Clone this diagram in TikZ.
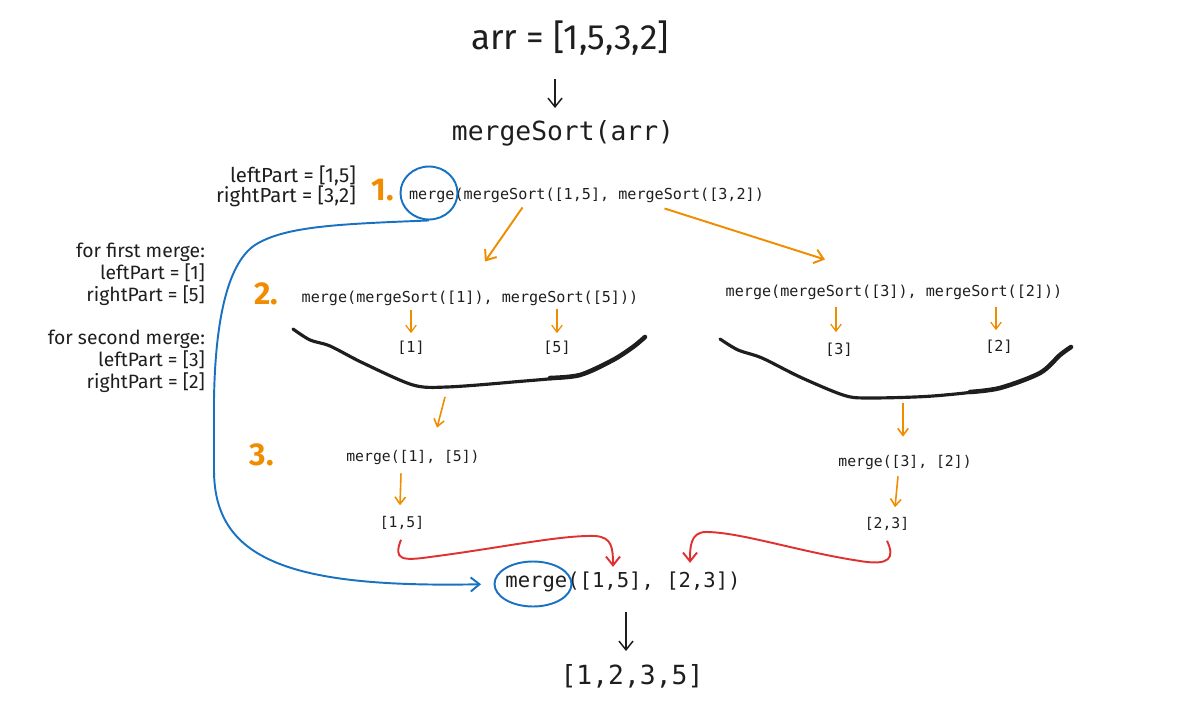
\documentclass[tikz,border=0pt]{standalone}
\usepackage{fontspec}
\usepackage{xcolor}
\usepackage{tikz}
\usetikzlibrary{shapes,arrows,arrows.meta,positioning,calc}
\newfontfamily\handfont{Fira Sans}
\newfontfamily\codefont{DejaVu Sans Mono}
\definecolor{exorange}{HTML}{F08C00}
\definecolor{exblue}{HTML}{1971C2}
\definecolor{exred}{HTML}{E03131}
\definecolor{exink}{HTML}{1E1E1E}
\tikzstyle{line} = [draw, -{Straight Barb[length=5pt,width=8pt]}]
\tikzset{
    every node/.style={inner sep=1pt, text=exink, font=\codefont\fontsize{8.6}{10}\selectfont}
}

\begin{document}
\begin{tikzpicture}[x=0.02cm, y=-0.02cm]
    % Define styles for the call tree
    \tikzstyle{handtext} = [font=\handfont\fontsize{11}{12.5}\selectfont]
    \tikzstyle{stepnum} = [text=exorange, font=\handfont\bfseries\fontsize{18}{20}\selectfont]
    \tikzstyle{ring} = [ellipse, draw=exblue, line width=1.1pt]
    \tikzstyle{bowl} = [draw=exink, line width=1.8pt, line cap=round, line join=round]
    \tikzstyle{fanout} = [line, draw=exorange, line width=1.1pt]
    \tikzstyle{orangedown} = [line, draw=exorange, line width=0.7pt,
        -{Straight Barb[length=4pt,width=6pt]}]
    \tikzstyle{mergeback} = [line, draw=exred, line width=1.1pt]
    \tikzstyle{blueloop} = [line, draw=exblue, line width=1.1pt]

    \useasboundingbox (0,0) rectangle (1200,719);

    % Top call
    \node[font=\handfont\fontsize{20}{22}\selectfont] (arr) at (570,38) {arr = [1,5,3,2]};
    \node[font=\codefont\fontsize{15}{18}\selectfont] (msort) at (563,133) {mergeSort(arr)};
    \draw[line, draw=exink, line width=0.85pt] ($(arr.south)+(-15,22)$) -- ($(msort.north)+(-8,-10)$);

    % Step 1
    \node[handtext, font=\handfont\fontsize{11.6}{11.5}\selectfont, align=right, anchor=east]
        (parts1) at (358,186) {leftPart = [1,5]\\rightPart = [3,2]};
    \node[stepnum] (s1) at (383,190) {1.};
    \node[anchor=west] (call1) at (407,195) {merge(mergeSort([1,5], mergeSort([3,2])};
    \node[ring, minimum width=1.14cm, minimum height=1.06cm] (ring1) at (429,193) {};

    % Notes on the left
    \node[handtext, align=right, anchor=east] (side1) at (207,274)
        {for first merge:\\leftPart = [1]\\rightPart = [5]};
    \node[handtext, align=right, anchor=east] (side2) at (207,361)
        {for second merge:\\leftPart = [3]\\rightPart = [2]};

    % Step 2
    \node[stepnum] (s2) at (266,294) {2.};
    \node (call2L) at (470,298) {merge(mergeSort([1]), mergeSort([5]))};
    \node (call2R) at (894,292) {merge(mergeSort([3]), mergeSort([2]))};
    \draw[fanout] ($(call1.south)+(-64,3)$) -- ($(call2L.north)+(15,-27)$);
    \draw[fanout] ($(call1.south)+(78,4)$) -- ($(call2R.north)+(-69,-23)$);

    \node (leaf1) at (411,348) {[1]};
    \node (leaf5) at (557,348) {[5]};
    \node (leaf3) at (839,350) {[3]};
    \node (leaf2) at (999,347) {[2]};
    \draw[orangedown, shorten <=0.06cm, shorten >=0.12cm] (leaf1.north |- call2L.south) -- (leaf1.north);
    \draw[orangedown, shorten <=0.04cm, shorten >=0.12cm] (leaf5.north |- call2L.south) -- (leaf5.north);
    \draw[orangedown, shorten <=0.12cm, shorten >=0.18cm] ([xshift=-0.06cm]leaf3.north |- call2R.south) -- ([xshift=-0.06cm]leaf3.north);
    \draw[orangedown, shorten <=0.12cm, shorten >=0.16cm] ([xshift=-0.06cm]leaf2.north |- call2R.south) -- ([xshift=-0.06cm]leaf2.north);

    % Hand drawn bowls under the leaves
    \draw[bowl] plot[smooth] coordinates {(293,329) (310,340) (330,346) (363,363) (413,385)
        (447,387) (513,382) (580,375) (613,360) (633,347) (645,337)};
    \draw[bowl, line width=2.6pt] plot[smooth] coordinates {(550,378) (580,375) (613,360) (633,347) (645,337)};
    \draw[bowl] plot[smooth] coordinates {(720,339) (738,350) (762,358) (800,377) (843,395)
        (867,398) (933,396) (1000,388) (1040,373) (1060,355) (1071,347)};
    \draw[bowl, line width=2.6pt] plot[smooth] coordinates {(970,392) (1000,388) (1040,373) (1060,355) (1071,347)};
    \coordinate (bowlL) at (445,397);
    \coordinate (bowlR) at (903,403);

    % Step 3
    \node[stepnum] (s3) at (262,455) {3.};
    \node[font=\codefont\fontsize{8.4}{10}\selectfont] (merge31) at (413,457) {merge([1], [5])};
    \node[font=\codefont\fontsize{8.4}{10}\selectfont] (merge32) at (905,462) {merge([3], [2])};
    \node[font=\codefont\fontsize{8.4}{10}\selectfont] (pair15) at (402,523) {[1,5]};
    \node[font=\codefont\fontsize{8.4}{10}\selectfont] (pair23) at (887,524) {[2,3]};
    \draw[orangedown, line width=0.9pt] (bowlL) -- ($(merge31.north)+(24,-20)$);
    \draw[orangedown, line width=0.9pt] (bowlR) -- ($(merge32.north)+(-2,-16)$);
    \draw[orangedown, line width=0.9pt] ($(merge31.south)+(-12,7)$) -- ($(pair15.north)+(-2,-9)$);
    \draw[orangedown, line width=0.9pt] ($(merge32.south)+(-7,5)$) -- ($(pair23.north)+(8,-8)$);

    % Final merge
    \node[font=\codefont\fontsize{11.7}{14}\selectfont] (call3) at (623,582) {merge([1,5], [2,3])};
    \node[ring, minimum width=1.54cm, minimum height=0.9cm] (ring2) at (533,584) {};
    \node[font=\codefont\fontsize{15}{18}\selectfont] (result) at (632,676) {[1,2,3,5]};
    \draw[line, draw=exink, line width=0.85pt] ($(call3.south)+(3,18)$) -- ($(result.north)+(-6,-11)$);

    \draw[mergeback] ($(pair15.south)+(-1,8)$) .. controls (393,560) and (402,561) .. (430,557)
        .. controls (500,548) and (560,535) .. (595,536)
        .. controls (612,537) and (613,548) .. ($(call3.north)+(-10,-3)$);
    \draw[mergeback] ($(pair23.south)+(0,8)$) .. controls (895,558) and (890,566) .. (860,561)
        .. controls (800,552) and (740,532) .. (706,532)
        .. controls (690,532) and (690,548) .. ($(call3.north)+(67,-7)$);

    % Reuse of merge
    \draw[blueloop, shorten >=0.25cm] (ring1.south) .. controls (340,224) and (285,226) .. (255,245)
        .. controls (225,265) and (215,330) .. (214,400) -- (214,470)
        .. controls (214,560) and (290,588) .. (ring2.west);
\end{tikzpicture}
\end{document}
